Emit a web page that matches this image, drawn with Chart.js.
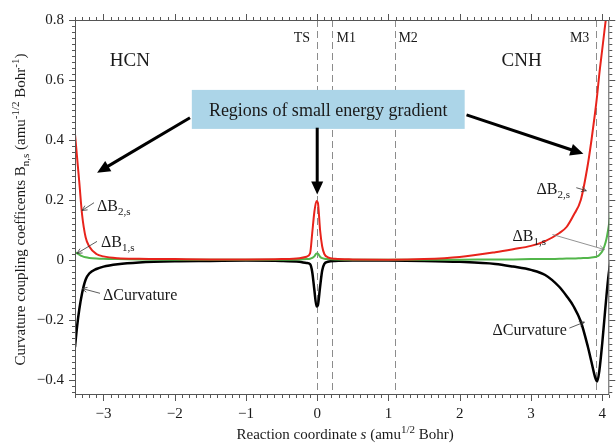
<!DOCTYPE html>
<html lang="en"><head><meta charset="utf-8"/>
<title>Curvature coupling coefficients</title>
<script src="https://cdn.jsdelivr.net/npm/chart.js@4.4.1/dist/chart.umd.min.js"></script>
<style>
  html,body{margin:0;padding:0;background:#fff}
  #wrap{width:616px;height:446px}
</style></head><body>
<div id="wrap"><canvas id="c" width="616" height="446"></canvas></div>
<script>
// reaction coordinate samples (amu^1/2 Bohr)
const sCoord = [-3.4, -3.37, -3.34, -3.3, -3.25, -3.2, -3.1, -3.0, -2.8, -2.5, -2.0, -1.5, -1.0, -0.5, -0.25, -0.15,
  -0.1, -0.07, -0.04, -0.01, 0.01, 0.04, 0.07, 0.1, 0.15, 0.25, 0.5, 1.0, 1.5, 2.0, 2.5, 2.75,
  3.0, 3.2, 3.4, 3.5, 3.6, 3.7, 3.8, 3.85, 3.9, 3.93, 3.96, 4.0, 4.03, 4.06, 4.09, 4.12];
const dB2 = [0.42, 0.34, 0.26, 0.15, 0.075, 0.045, 0.02, 0.012, 0.006, 0.004, 0.003, 0.002, 0.002, 0.003, 0.006, 0.011,
  0.022, 0.09, 0.16, 0.197, 0.19, 0.1, 0.045, 0.02, 0.009, 0.004, 0.002, 0.001, 0.003, 0.01, 0.026, 0.036,
  0.047, 0.063, 0.09, 0.11, 0.15, 0.2, 0.32, 0.4, 0.49, 0.55, 0.62, 0.7, 0.76, 0.82, 0.9, 0.98];
const dB1 = [0.025, 0.022, 0.018, 0.013, 0.009, 0.007, 0.005, 0.004, 0.003, 0.002, 0.001, 0.001, 0.001, 0.001, 0.002, 0.003,
  0.004, 0.007, 0.012, 0.022, 0.021, 0.011, 0.006, 0.004, 0.003, 0.002, 0.001, 0.001, 0.001, 0.001, 0.002, 0.002,
  0.003, 0.003, 0.004, 0.005, 0.005, 0.006, 0.007, 0.008, 0.01, 0.012, 0.017, 0.028, 0.045, 0.07, 0.11, 0.16];
const dCurv = [-0.29, -0.22, -0.165, -0.11, -0.065, -0.045, -0.03, -0.022, -0.014, -0.008, -0.004, -0.003, -0.002, -0.003, -0.006, -0.01,
  -0.014, -0.04, -0.1, -0.155, -0.15, -0.09, -0.035, -0.013, -0.006, -0.003, -0.002, -0.002, -0.003, -0.006, -0.013, -0.022,
  -0.033, -0.05, -0.09, -0.12, -0.155, -0.205, -0.29, -0.34, -0.39, -0.405, -0.37, -0.28, -0.2, -0.12, -0.05, 0.0];
const xTicks = [-3, -2, -1, 0, 1, 2, 3, 4];
const yTicks = [-0.4, -0.2, 0, 0.2, 0.4, 0.6, 0.8];
const markerNames = ['TS', 'M1', 'M2', 'M3'];
const markerS = [0, 0.21, 1.09, 3.91];

const SERIF = "'Liberation Serif','Times New Roman',serif";
const minus = v => (v < 0 ? '\u2212' : '') + Math.abs(v);
const pts = ys => sCoord.map((s, i) => ({x: s, y: ys[i]}));

// text with sub/superscripts: [text, size, dy, italic]
function rich(ctx, parts, x, y, align) {
  const f = p => (p[3] ? 'italic ' : '') + p[1] + 'px ' + SERIF;
  let w = 0;
  parts.forEach(p => { ctx.font = f(p); w += ctx.measureText(p[0]).width; });
  let cx = align === 'center' ? x - w / 2 : align === 'right' ? x - w : x;
  ctx.textAlign = 'left'; ctx.textBaseline = 'alphabetic';
  parts.forEach(p => { ctx.font = f(p); ctx.fillText(p[0], cx, y + p[2]); cx += ctx.measureText(p[0]).width; });
}
function arrow(ctx, x1, y1, x2, y2, lw, hl, hw, open) {
  const a = Math.atan2(y2 - y1, x2 - x1), c = Math.cos(a), s = Math.sin(a);
  ctx.lineWidth = lw;
  ctx.beginPath(); ctx.moveTo(x1, y1);
  ctx.lineTo(open ? x2 : x2 - c * hl * 0.8, open ? y2 : y2 - s * hl * 0.8); ctx.stroke();
  ctx.beginPath();
  ctx.moveTo(x2 - c * hl + s * hw, y2 - s * hl - c * hw);
  ctx.lineTo(x2, y2);
  ctx.lineTo(x2 - c * hl - s * hw, y2 - s * hl + c * hw);
  if (open) { ctx.stroke(); } else { ctx.closePath(); ctx.fill(); }
}

const deco = {
  id: 'deco',
  beforeDatasetsDraw(chart) {
    const {ctx, chartArea: a, scales: {x}} = chart;
    ctx.save();
    ctx.strokeStyle = '#8c8c8c'; ctx.lineWidth = 1; ctx.setLineDash([7, 4]);
    markerS.forEach(s => {
      const px = Math.round(x.getPixelForValue(s)) + 0.5;
      ctx.beginPath(); ctx.moveTo(px, a.top); ctx.lineTo(px, a.bottom); ctx.stroke();
    });
    ctx.restore();
  },
  afterDatasetsDraw(chart) {
    const {ctx, chartArea: a, scales: {x, y}} = chart;
    const X = v => x.getPixelForValue(v), Y = v => y.getPixelForValue(v);
    ctx.save();
    // frame + ticks on all sides
    ctx.strokeStyle = '#555'; ctx.lineWidth = 1;
    ctx.strokeRect(a.left + 0.5, a.top + 0.5, a.right - a.left - 1, a.bottom - a.top - 1);
    ctx.beginPath();
    for (let k = Math.ceil(x.min * 10 - 1e-6); k <= x.max * 10 + 1e-6; k++) {
      const px = Math.round(X(k / 10)) + 0.5, len = k % 10 === 0 ? 6 : 3;
      ctx.moveTo(px, a.bottom); ctx.lineTo(px, a.bottom + len);
      ctx.moveTo(px, a.top); ctx.lineTo(px, a.top - len);
    }
    for (let k = Math.ceil(y.min * 50 - 1e-6); k <= y.max * 50 + 1e-6; k++) {
      const py = Math.round(Y(k / 50)) + 0.5, len = k % 10 === 0 ? 6 : 3;
      ctx.moveTo(a.left, py); ctx.lineTo(a.left - len, py);
      ctx.moveTo(a.right, py); ctx.lineTo(a.right + len, py);
    }
    ctx.stroke();

    ctx.fillStyle = '#1a1a1a';
    // state labels
    rich(ctx, [['HCN', 19, 0]], X(-2.63), Y(0.647), 'center');
    rich(ctx, [['CNH', 19, 0]], X(2.87), Y(0.647), 'center');
    rich(ctx, [['TS', 14, 0]], X(-0.1), Y(0.727), 'right');
    rich(ctx, [['M1', 14, 0]], X(0.27), Y(0.727), 'left');
    rich(ctx, [['M2', 14, 0]], X(1.14), Y(0.727), 'left');
    rich(ctx, [['M3', 14, 0]], X(3.82), Y(0.727), 'right');

    // curve labels with thin pointers
    const b2 = [['\u0394B', 16, 0], ['2,s', 11, 4]], b1 = [['\u0394B', 16, 0], ['1,s', 11, 4]], cu = [['\u0394Curvature', 16, 0]];
    rich(ctx, b2, X(-3.09), Y(0.165), 'left');
    rich(ctx, b1, X(-3.035), Y(0.042), 'left');
    rich(ctx, cu, X(-3.007), Y(-0.134), 'left');
    rich(ctx, b2, X(3.077), Y(0.221), 'left');
    rich(ctx, b1, X(2.741), Y(0.065), 'left');
    rich(ctx, cu, X(2.46), Y(-0.251), 'left');
    ctx.strokeStyle = '#333';
    arrow(ctx, X(-3.133), Y(0.191), X(-3.301), Y(0.165), 0.8, 5, 2.5, true);
    arrow(ctx, X(-3.091), Y(0.062), X(-3.372), Y(0.022), 0.8, 5, 2.5, true);
    arrow(ctx, X(-3.049), Y(-0.111), X(-3.301), Y(-0.095), 0.8, 5, 2.5, true);
    arrow(ctx, X(3.637), Y(0.241), X(3.778), Y(0.231), 0.8, 5, 2.5, true);
    ctx.strokeStyle = '#777';
    arrow(ctx, X(3.302), Y(0.085), X(4.03), Y(0.035), 0.8, 5, 2.5, true);
    ctx.strokeStyle = '#333';
    arrow(ctx, X(3.54), Y(-0.227), X(3.75), Y(-0.207), 0.8, 5, 2.5, true);

    // callout box + arrows
    ctx.fillStyle = '#acd5e8';
    ctx.fillRect(X(-1.76), Y(0.567), X(2.07) - X(-1.76), Y(0.437) - Y(0.567));
    ctx.fillStyle = '#1a1a1a';
    rich(ctx, [['Regions of small energy gradient', 18, 0]], X(0.154), Y(0.5) + 6, 'center');
    ctx.strokeStyle = '#000'; ctx.fillStyle = '#000';
    arrow(ctx, X(-1.786), Y(0.474), X(-3.09), Y(0.291), 3, 13, 6);
    arrow(ctx, X(0), Y(0.441), X(0), Y(0.218), 3, 13, 6);
    arrow(ctx, X(2.096), Y(0.484), X(3.736), Y(0.354), 3, 13, 6);

    // axis titles
    ctx.fillStyle = '#1a1a1a';
    rich(ctx, [['Reaction coordinate ', 15, 0], ['s', 15, 0, true], [' (amu', 15, 0], ['1/2', 11, -6], [' Bohr)', 15, 0]],
      (a.left + a.right) / 2 + 3, 439, 'center');
    ctx.translate(25, (a.top + a.bottom) / 2 + 2);
    ctx.rotate(-Math.PI / 2);
    rich(ctx, [['Curvature coupling coefficents B', 15, 0], ['n,s', 11, 4], [' (amu', 15, 0], ['-1/2', 11, -6],
      [' Bohr', 15, 0], ['-1', 11, -6], [')', 15, 0]], 0, 0, 'center');
    ctx.restore();
  }
};

Chart.defaults.font.family = SERIF;
new Chart(document.getElementById('c'), {
  type: 'scatter',
  data: {datasets: [
    {label: '\u0394B2,s', data: pts(dB2), borderColor: '#e8231b', borderWidth: 2},
    {label: '\u0394B1,s', data: pts(dB1), borderColor: '#52b64a', borderWidth: 2},
    {label: '\u0394Curvature', data: pts(dCurv), borderColor: '#000', borderWidth: 2.5}
  ].map(d => Object.assign(d, {showLine: true, pointRadius: 0, cubicInterpolationMode: 'monotone', fill: false}))},
  plugins: [deco],
  options: {
    responsive: false, animation: false,
    layout: {padding: {top: 19, right: 6, left: 0, bottom: 0}},
    plugins: {legend: {display: false}, tooltip: {enabled: false}},
    scales: {
      x: {type: 'linear', min: -3.4, max: 4.1, afterFit: s => { s.height = 51; },
        afterBuildTicks: s => { s.ticks = xTicks.map(v => ({value: v})); },
        grid: {display: false, drawTicks: false}, border: {display: false},
        ticks: {padding: 10, color: '#1a1a1a', font: {size: 15}, maxRotation: 0, autoSkip: false, callback: v => minus(v)}},
      y: {min: -0.45, max: 0.8, afterFit: s => { s.width = 75; },
        afterBuildTicks: s => { s.ticks = yTicks.map(v => ({value: v})); },
        grid: {display: false, drawTicks: false}, border: {display: false},
        ticks: {padding: 11, color: '#1a1a1a', font: {size: 15}, autoSkip: false, callback: v => minus(Math.round(v * 10) / 10)}}
    }
  }
});
</script></body></html>
